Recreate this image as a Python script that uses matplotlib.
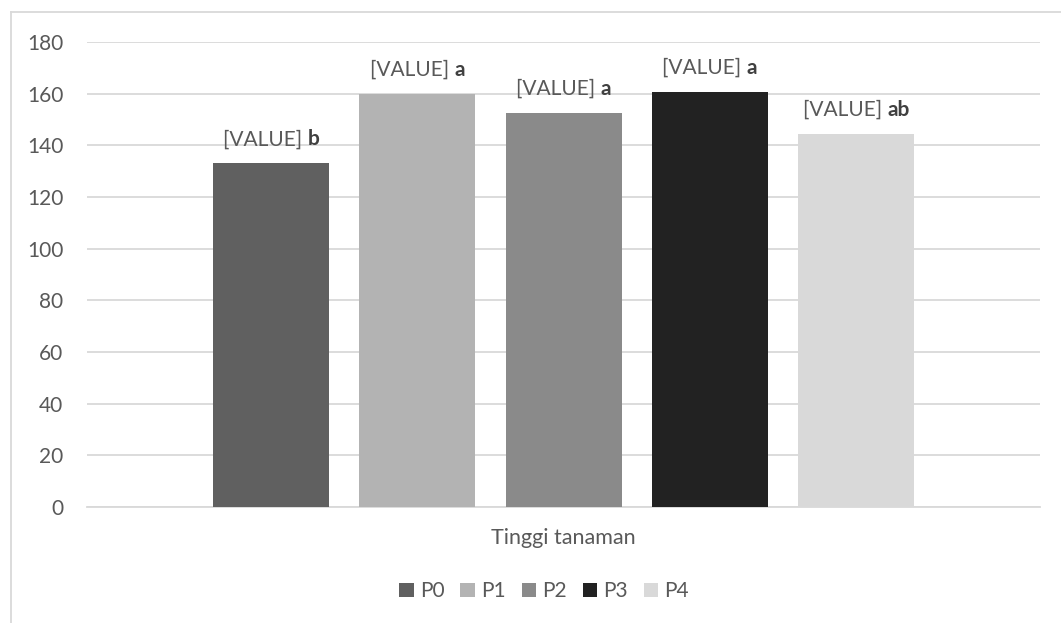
import matplotlib.pyplot as plt
from matplotlib.lines import Line2D
from matplotlib.offsetbox import AnnotationBbox, HPacker, TextArea
from matplotlib.patches import Patch

plt.rcParams['font.family'] = ['Lato', 'DejaVu Sans']

# treatment groups and mean plant height
treatments = ['P0', 'P1', 'P2', 'P3', 'P4']
heights = [133.0, 160.0, 152.5, 160.6, 144.4]
letters = ['b', 'a', 'a', 'a', 'ab']
category = 'Tinggi tanaman'
colors = ['#606060', '#b3b3b3', '#8a8a8a', '#222222', '#d9d9d9']

text_color = '#595959'
grid_color = '#d9d9d9'
fs = 15

fig = plt.figure(figsize=(10.61, 6.23), dpi=100)
ax = fig.add_axes([0.082, 0.186, 0.898, 0.7468])

positions = list(range(len(treatments)))
ax.bar(positions, heights, width=0.793, color=colors, zorder=3)

# value labels: plain placeholder plus bold significance letter
for x, h, letter in zip(positions, heights, letters):
    box = HPacker(children=[
        TextArea('[VALUE] ', textprops=dict(color=text_color, fontsize=fs)),
        TextArea(letter, textprops=dict(color='#404040', fontsize=fs, fontweight='bold')),
    ], pad=0, sep=0, align='baseline')
    ab = AnnotationBbox(box, (x, h), xybox=(0, 10), xycoords='data',
                        boxcoords='offset points', box_alignment=(0.5, 0),
                        frameon=False, zorder=4)
    ax.add_artist(ab)

ax.set_ylim(0, 180)
ax.set_yticks(range(0, 181, 20))
ax.set_xlim(-1.258, 5.256)
ax.set_xticks([2])
ax.set_xticklabels([category], fontsize=15.5)

ax.yaxis.grid(True, color=grid_color, linewidth=1.3, zorder=0)
for side in ['top', 'right', 'left']:
    ax.spines[side].set_visible(False)
ax.spines['bottom'].set_color(grid_color)
ax.spines['bottom'].set_linewidth(1.3)
ax.tick_params(axis='both', length=0, colors=text_color)
ax.tick_params(axis='y', pad=17, labelsize=fs)
ax.tick_params(axis='x', pad=15)

handles = [Patch(facecolor=c, edgecolor='none') for c in colors]
fig.legend(handles, treatments, loc='center', bbox_to_anchor=(0.513, 0.051),
           ncol=5, frameon=False, fontsize=fs, labelcolor=text_color,
           handlelength=0.7, handleheight=0.7, handletextpad=0.3,
           columnspacing=0.75)

# outer chart border, clipped by the image edges on the right and bottom
fig.add_artist(Line2D([0.0099, 1.0], [0.981, 0.981], color=grid_color, linewidth=1.3))
fig.add_artist(Line2D([0.0099, 0.0099], [0.0, 0.981], color=grid_color, linewidth=1.3))

fig.savefig('out.png', dpi=100)
